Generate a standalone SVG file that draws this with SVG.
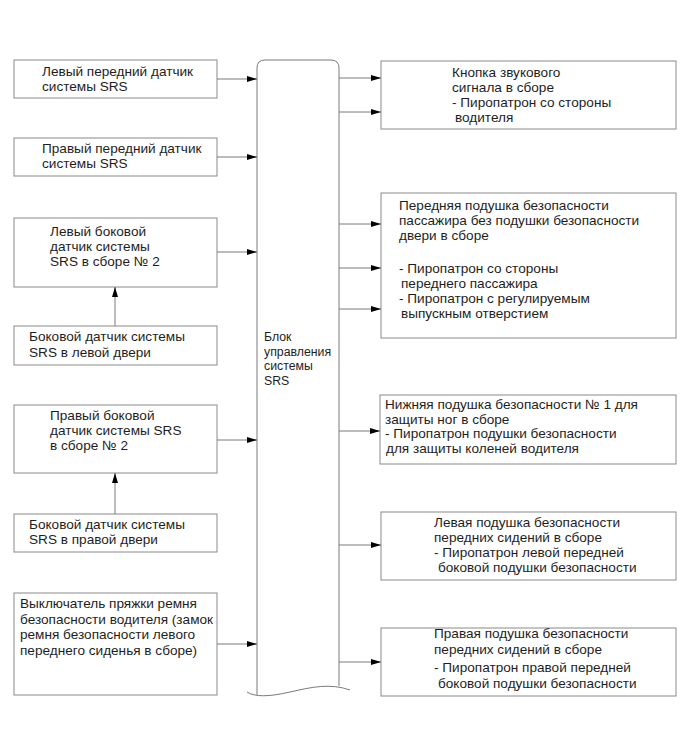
<svg xmlns="http://www.w3.org/2000/svg" width="690" height="756" viewBox="0 0 690 756">
<defs>
<style>
.box{fill:#fff;stroke:#8a8a8a;stroke-width:1}
.ln{fill:none;stroke:#7a7a7a;stroke-width:1}
text{font-family:"Liberation Sans",Arial,sans-serif;font-size:13.6px;fill:#1e1e1e}
.sm{font-size:12.3px}
</style>
<marker id="ah" markerWidth="10" markerHeight="8" refX="10" refY="4" orient="auto" markerUnits="userSpaceOnUse">
<path d="M0,1 L10,4 L0,7 Z" fill="#000"/>
</marker>
</defs>
<rect width="690" height="756" fill="#fff"/>

<g id="ecu">
<path class="ln" d="M257,695 L257,68 Q257,60 265,60 L331,60 Q339,60 339,68 L339,686"/>
<path class="ln" d="M247,692 C255,697 268,697 290,692 S330,683 350,690"/>
<text class="sm" x="264" y="341">Блок</text>
<text class="sm" x="264" y="356">управления</text>
<text class="sm" x="264" y="370">системы</text>
<text class="sm" x="264" y="385">SRS</text>
</g>

<g id="n1">
<rect class="box" x="14" y="60" width="203" height="38"/>
<text x="42" y="76">Левый передний датчик</text>
<text x="42" y="91">системы SRS</text>
</g>
<g id="n2">
<rect class="box" x="14" y="138" width="203" height="38"/>
<text x="42" y="153">Правый передний датчик</text>
<text x="42" y="168">системы SRS</text>
</g>
<g id="n3">
<rect class="box" x="14" y="218" width="203" height="69"/>
<text x="50" y="236">Левый боковой</text>
<text x="50" y="251">датчик системы</text>
<text x="50" y="266">SRS в сборе № 2</text>
</g>
<g id="n4">
<rect class="box" x="14" y="326" width="203" height="39"/>
<text x="29" y="341">Боковой датчик системы</text>
<text x="29" y="357">SRS в левой двери</text>
</g>
<g id="n5">
<rect class="box" x="14" y="405" width="203" height="68"/>
<text x="50" y="420">Правый боковой</text>
<text x="50" y="435">датчик системы SRS</text>
<text x="50" y="450">в сборе № 2</text>
</g>
<g id="n6">
<rect class="box" x="14" y="514" width="203" height="38"/>
<text x="29" y="529">Боковой датчик системы</text>
<text x="29" y="544">SRS в правой двери</text>
</g>
<g id="n7">
<rect class="box" x="14" y="593" width="203" height="102"/>
<text x="20" y="608">Выключатель пряжки ремня</text>
<text x="20" y="624">безопасности водителя (замок</text>
<text x="20" y="639">ремня безопасности левого</text>
<text x="20" y="655">переднего сиденья в сборе)</text>
</g>

<g id="r1">
<rect class="box" x="381" y="61" width="295" height="68"/>
<text x="452" y="77">Кнопка звукового</text>
<text x="452" y="92">сигнала в сборе</text>
<text x="452" y="107"> - Пиропатрон со стороны</text>
<text x="455" y="122">водителя</text>
</g>
<g id="r2">
<rect class="box" x="381" y="193" width="295" height="145"/>
<text x="399" y="210">Передняя подушка безопасности</text>
<text x="399" y="225">пассажира без подушки безопасности</text>
<text x="399" y="240">двери в сборе</text>
<text x="399" y="273"> - Пиропатрон со стороны</text>
<text x="401" y="288">переднего пассажира</text>
<text x="399" y="303"> - Пиропатрон с регулируемым</text>
<text x="401" y="318">выпускным отверстием</text>
</g>
<g id="r3">
<rect class="box" x="380" y="395" width="296" height="69"/>
<text x="385" y="409">Нижняя подушка безопасности № 1 для</text>
<text x="385" y="424">защиты ног в сборе</text>
<text x="385" y="438">- Пиропатрон подушки безопасности</text>
<text x="386" y="453">для защиты коленей водителя</text>
</g>
<g id="r4">
<rect class="box" x="381" y="512" width="295" height="68"/>
<text x="434" y="527">Левая подушка безопасности</text>
<text x="434" y="542">передних сидений в сборе</text>
<text x="434" y="557"> - Пиропатрон левой передней</text>
<text x="438" y="572">боковой подушки безопасности</text>
</g>
<g id="r5">
<rect class="box" x="381" y="628" width="295" height="68"/>
<text x="434" y="638">Правая подушка безопасности</text>
<text x="434" y="654">передних сидений в сборе</text>
<text x="434" y="672"> - Пиропатрон правой передней</text>
<text x="438" y="688">боковой подушки безопасности</text>
</g>

<g id="connectors">
<line class="ln" x1="217" y1="79" x2="257" y2="79" marker-end="url(#ah)"/>
<line class="ln" x1="217" y1="157" x2="257" y2="157" marker-end="url(#ah)"/>
<line class="ln" x1="217" y1="252" x2="257" y2="252" marker-end="url(#ah)"/>
<line class="ln" x1="115" y1="326" x2="115" y2="287" marker-end="url(#ah)"/>
<line class="ln" x1="217" y1="440" x2="257" y2="440" marker-end="url(#ah)"/>
<line class="ln" x1="115" y1="514" x2="115" y2="473" marker-end="url(#ah)"/>
<line class="ln" x1="217" y1="644" x2="257" y2="644" marker-end="url(#ah)"/>
<line class="ln" x1="339" y1="78" x2="381" y2="78" marker-end="url(#ah)"/>
<line class="ln" x1="339" y1="112" x2="381" y2="112" marker-end="url(#ah)"/>
<line class="ln" x1="339" y1="224" x2="381" y2="224" marker-end="url(#ah)"/>
<line class="ln" x1="339" y1="268" x2="381" y2="268" marker-end="url(#ah)"/>
<line class="ln" x1="339" y1="309" x2="381" y2="309" marker-end="url(#ah)"/>
<line class="ln" x1="339" y1="431" x2="380" y2="431" marker-end="url(#ah)"/>
<line class="ln" x1="339" y1="545" x2="381" y2="545" marker-end="url(#ah)"/>
<line class="ln" x1="339" y1="662" x2="381" y2="662" marker-end="url(#ah)"/>
</g>
</svg>
